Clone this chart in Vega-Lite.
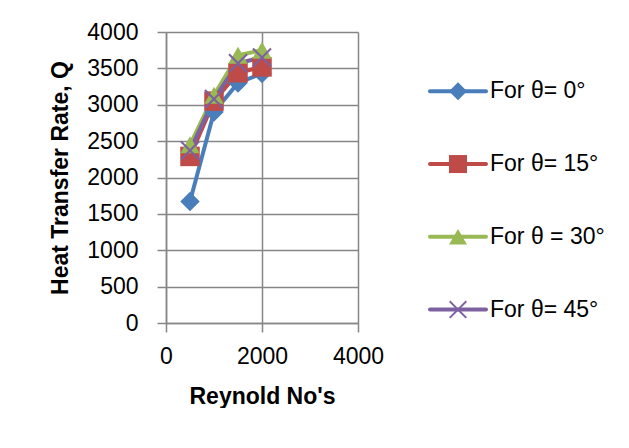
{
  "$schema": "https://vega.github.io/schema/vega-lite/v6.json",
  "autosize": {"type": "pad"},
  "padding": {"left": 49, "top": 21, "right": 0, "bottom": 0},
  "background": "white",
  "spacing": 44,
  "config": {
    "font": "Liberation Sans",
    "view": {"stroke": null},
    "axis": {
      "gridColor": "#868686", "gridWidth": 1.5, "gridOpacity": 1,
      "domainColor": "#868686", "domainWidth": 1.5,
      "tickColor": "#868686", "tickWidth": 1.5, "tickSize": 9,
      "labelFontSize": 23, "labelColor": "#000000", "labelFont": "Liberation Sans",
      "titleFontSize": 23, "titleFontWeight": "bold", "titleColor": "#000000", "titleFont": "Liberation Sans"
    }
  },
  "resolve": {"scale": {"x": "independent", "y": "independent"}},
  "hconcat": [
    {
      "width": 192,
      "height": 291,
      "data": {
        "values": [
          {"Re": 500, "Q": 1670, "series": "For θ= 0°"},
          {"Re": 1000, "Q": 2900, "series": "For θ= 0°"},
          {"Re": 1500, "Q": 3300, "series": "For θ= 0°"},
          {"Re": 2000, "Q": 3430, "series": "For θ= 0°"},
          {"Re": 500, "Q": 2290, "series": "For θ= 15°"},
          {"Re": 1000, "Q": 3050, "series": "For θ= 15°"},
          {"Re": 1500, "Q": 3440, "series": "For θ= 15°"},
          {"Re": 2000, "Q": 3520, "series": "For θ= 15°"},
          {"Re": 500, "Q": 2450, "series": "For θ = 30°"},
          {"Re": 1000, "Q": 3130, "series": "For θ = 30°"},
          {"Re": 1500, "Q": 3680, "series": "For θ = 30°"},
          {"Re": 2000, "Q": 3750, "series": "For θ = 30°"},
          {"Re": 500, "Q": 2370, "series": "For θ= 45°"},
          {"Re": 1000, "Q": 3080, "series": "For θ= 45°"},
          {"Re": 1500, "Q": 3570, "series": "For θ= 45°"},
          {"Re": 2000, "Q": 3650, "series": "For θ= 45°"}
        ]
      },
      "encoding": {
        "x": {
          "field": "Re", "type": "quantitative",
          "scale": {"domain": [0, 4000], "nice": false},
          "axis": {"values": [0, 2000, 4000], "format": "d", "title": "Reynold No's", "labelPadding": 13, "titlePadding": 17, "labelFlush": false}
        },
        "y": {
          "field": "Q", "type": "quantitative",
          "scale": {"domain": [0, 4000], "nice": false},
          "axis": {"values": [0, 500, 1000, 1500, 2000, 2500, 3000, 3500, 4000], "format": "d", "title": "Heat Transfer Rate, Q", "labelPadding": 19, "titlePadding": 14}
        },
        "color": {
          "field": "series", "type": "nominal",
          "scale": {
            "domain": ["For θ= 0°", "For θ= 15°", "For θ = 30°", "For θ= 45°"],
            "range": ["#4A7EBB", "#BE4B48", "#98B954", "#7D60A0"]
          },
          "legend": null
        }
      },
      "layer": [
        {"mark": {"type": "line", "strokeWidth": 4}},
        {
          "mark": {"type": "point", "filled": true, "opacity": 1, "size": 380},
          "encoding": {
            "shape": {
              "field": "series", "type": "nominal",
              "scale": {
                "domain": ["For θ= 0°", "For θ= 15°", "For θ = 30°", "For θ= 45°"],
                "range": ["diamond", "square", "triangle-up", "M-1,-0.85L-0.85,-1L0,-0.15L0.85,-1L1,-0.85L0.15,0L1,0.85L0.85,1L0,0.15L-0.85,1L-1,0.85L-0.15,0Z"]
              },
              "legend": null
            }
          }
        }
      ]
    },
    {
      "width": 56,
      "height": 291,
      "data": {
        "values": [
          {"series": "For θ= 0°"},
          {"series": "For θ= 15°"},
          {"series": "For θ = 30°"},
          {"series": "For θ= 45°"}
        ]
      },
      "encoding": {
        "y": {
          "field": "series", "type": "nominal",
          "scale": {"type": "point", "domain": ["For θ= 0°", "For θ= 15°", "For θ = 30°", "For θ= 45°"], "paddingOuter": 1.563, "align": 0.815},
          "axis": null
        },
        "color": {
          "field": "series", "type": "nominal",
          "scale": {
            "domain": ["For θ= 0°", "For θ= 15°", "For θ = 30°", "For θ= 45°"],
            "range": ["#4A7EBB", "#BE4B48", "#98B954", "#7D60A0"]
          },
          "legend": null
        }
      },
      "layer": [
        {
          "mark": {"type": "rule", "strokeWidth": 4, "strokeCap": "round"},
          "encoding": {
            "x": {"datum": 0, "type": "quantitative", "scale": {"domain": [0, 1], "nice": false}, "axis": null},
            "x2": {"datum": 1}
          }
        },
        {
          "mark": {"type": "point", "filled": true, "opacity": 1, "size": 324},
          "encoding": {
            "x": {"datum": 0.5, "type": "quantitative"},
            "shape": {
              "field": "series", "type": "nominal",
              "scale": {
                "domain": ["For θ= 0°", "For θ= 15°", "For θ = 30°", "For θ= 45°"],
                "range": ["diamond", "square", "triangle-up", "M-1,-0.85L-0.85,-1L0,-0.15L0.85,-1L1,-0.85L0.15,0L1,0.85L0.85,1L0,0.15L-0.85,1L-1,0.85L-0.15,0Z"]
              },
              "legend": null
            }
          }
        },
        {
          "mark": {"type": "text", "align": "left", "baseline": "middle", "dx": 4, "fontSize": 23, "color": "#000000"},
          "encoding": {
            "x": {"datum": 1, "type": "quantitative"},
            "text": {"field": "series"},
            "color": {"value": "#000000"}
          }
        }
      ]
    }
  ]
}
